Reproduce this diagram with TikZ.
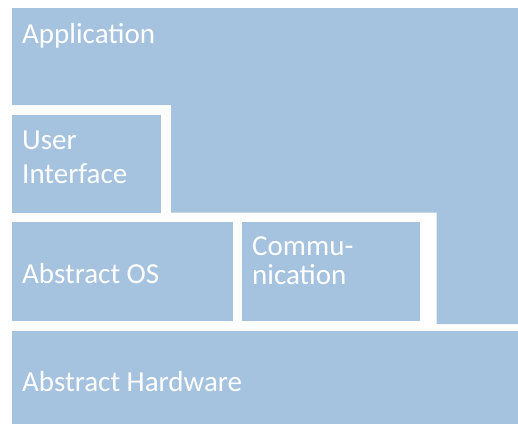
\documentclass[tikz,border=0pt]{standalone}
\usepackage{fontspec}
\setmainfont{Carlito}
\usepackage{tikz}
\definecolor{layerblue}{RGB}{165,194,222}

\begin{document}
\begin{tikzpicture}[x=1pt,y=-1pt]
		\tikzset{layer/.style={fill=layerblue,draw=none,inner sep=0pt,anchor=north west}};
		\tikzset{layertext/.style={text=white,inner sep=0pt,anchor=base west,align=left,
					font=\fontsize{29}{34}\selectfont}};
		
		\useasboundingbox (0,0) rectangle (518,424);
		\fill [layerblue] (12,8) -- (518,8) -- (518,324) -- (436.7,324) -- (436.7,212.7)
		-- (171,212.7) -- (171,105) -- (12,105) -- cycle;
		
		\node (ui) at (12,115) [layer,minimum width=149pt,minimum height=97.7pt]{};
		\node (os) at (12,222) [layer,minimum width=221pt,minimum height=98.7pt]{};
		\node (comm) at (242,222) [layer,minimum width=178pt,minimum height=98.7pt]{};
		\node (hw) at (12,331) [layer,minimum width=506pt,minimum height=93pt]{};
		
		\node (apptext) at (22,43) [layertext]{Application};
		\node (uitext) at (22,183) [layertext]{User\\Interface};
		\node (ostext) at (22,283) [layertext]{Abstract OS};
		\node (commtext) at (252,284) [layertext]{Commu-\\[-5pt]nication};
		\node (hwtext) at (22,391) [layertext]{Abstract Hardware};
		\end{tikzpicture}
\end{document}
